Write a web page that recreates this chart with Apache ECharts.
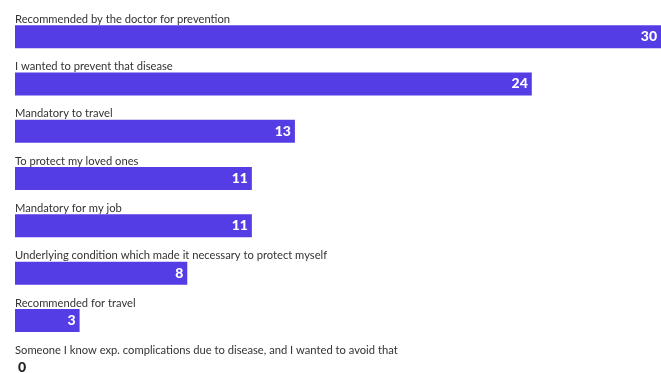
<!DOCTYPE html>
<html>
<head>
<meta charset="utf-8">
<script src="https://cdn.jsdelivr.net/npm/echarts@6/dist/echarts.min.js"></script>
<style>
  html, body { margin: 0; padding: 0; background: #ffffff; overflow: hidden; }
  #chart { width: 661px; height: 400px; }
</style>
</head>
<body>
<div id="chart"></div>
<script>
// Reasons given for getting vaccinated, with the number of respondents
const reasons = [
  'Recommended by the doctor for prevention',
  'I wanted to prevent that disease',
  'Mandatory to travel',
  'To protect my loved ones',
  'Mandatory for my job',
  'Underlying condition which made it necessary to protect myself',
  'Recommended for travel',
  'Someone I know exp. complications due to disease, and I wanted to avoid that'
];
const counts = [30, 24, 13, 11, 11, 8, 3, 0];

const barColor = '#553de6';
const fontFamily = 'Lato, Roboto, sans-serif';

const chart = echarts.init(document.getElementById('chart'), null, { renderer: 'canvas' });

const seriesData = counts.map(function (v) {
  if (v === 0) {
    return {
      value: v,
      label: { position: 'right', distance: 3, color: '#222222' }
    };
  }
  return { value: v };
});

chart.setOption({
  animation: false,
  backgroundColor: '#ffffff',
  grid: { left: 15, top: 13, width: 646, height: 378.4, containLabel: false },
  xAxis: {
    type: 'value',
    min: 0,
    max: 30,
    show: false
  },
  yAxis: {
    type: 'category',
    data: reasons,
    inverse: true,
    axisLine: { show: false },
    axisTick: { show: false },
    splitLine: { show: false },
    axisLabel: {
      inside: true,
      margin: 0,
      align: 'left',
      verticalAlign: 'bottom',
      padding: [0, 0, 12, 0],
      color: '#333333',
      fontSize: 11.2,
      fontFamily: fontFamily
    },
    z: 10
  },
  series: [{
    type: 'bar',
    data: seriesData,
    barWidth: 23,
    itemStyle: { color: barColor },
    label: {
      show: true,
      position: 'insideRight',
      distance: 4,
      color: '#ffffff',
      fontWeight: 900,
      fontSize: 14,
      fontFamily: fontFamily
    }
  }]
});
</script>
</body>
</html>
